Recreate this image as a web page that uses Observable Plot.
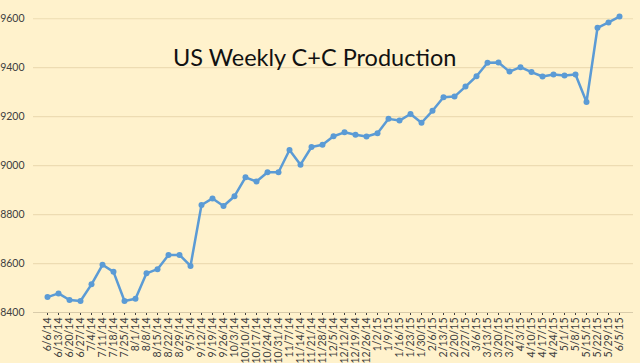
<!DOCTYPE html>
<html><head><meta charset="utf-8">
<script src="https://cdn.jsdelivr.net/npm/d3@7"></script>
<script src="https://cdn.jsdelivr.net/npm/@observablehq/plot@0.6"></script>
<style>
body{margin:0;background:#fff2cc;}
#wrap{position:relative;width:640px;height:363px;overflow:hidden;}
#title{position:absolute;z-index:2;left:173px;top:43px;white-space:nowrap;font:23.5px Lato, sans-serif;color:#111;}
</style></head><body><div id="wrap"><div id="title">US Weekly C+C Production</div></div>
<script>
const dates = ["6/6/14","6/13/14","6/20/14","6/27/14","7/4/14","7/11/14","7/18/14","7/25/14","8/1/14","8/8/14","8/15/14","8/22/14","8/29/14","9/5/14","9/12/14","9/19/14","9/26/14","10/3/14","10/10/14","10/17/14","10/24/14","10/31/14","11/7/14","11/14/14","11/21/14","11/28/14","12/5/14","12/12/14","12/19/14","12/26/14","1/2/15","1/9/15","1/16/15","1/23/15","1/30/15","2/6/15","2/13/15","2/20/15","2/27/15","3/6/15","3/13/15","3/20/15","3/27/15","4/3/15","4/10/15","4/17/15","4/24/15","5/1/15","5/8/15","5/15/15","5/22/15","5/29/15","6/5/15"];
const production = [8463,8478,8451,8447,8515,8595,8566,8447,8456,8560,8577,8635,8635,8590,8839,8866,8835,8875,8952,8935,8973,8973,9064,9004,9076,9085,9120,9136,9126,9119,9132,9191,9184,9211,9175,9224,9279,9282,9323,9365,9420,9421,9384,9402,9382,9364,9372,9368,9372,9260,9563,9585,9609];
const yTicks = [8400,8600,8800,9000,9200,9400,9600];
const data = dates.map((d,i)=>({date:d, value:production[i]}));
const chart = Plot.plot({
  width:640, height:363, marginTop:6, marginBottom:51, marginLeft:33, marginRight:7,
  style:{background:"#fff2cc", fontFamily:"Lato, sans-serif", fontSize:"10.5px", color:"#404040"},
  x:{type:"point", domain:dates, padding:0.2, label:null, tickRotate:-90, tickSize:3, tickPadding:2},
  y:{domain:[8400,9650], ticks:yTicks, tickFormat:d => String(d), label:null, tickSize:0, tickPadding:9},
  marks:[
    Plot.ruleY(yTicks.slice(1), {stroke:"#eddcb2", strokeWidth:1.2}),
    Plot.ruleY([8400], {stroke:"#d9ccaa"}),
    Plot.line(data,{x:"date",y:"value",stroke:"#5b9bd5",strokeWidth:2.5}),
    Plot.dot(data,{x:"date",y:"value",fill:"#5b9bd5",r:3})
  ]
});
chart.style.position="absolute"; chart.style.left="0"; chart.style.top="0"; chart.style.zIndex="1";
document.getElementById("wrap").appendChild(chart);
</script></body></html>
